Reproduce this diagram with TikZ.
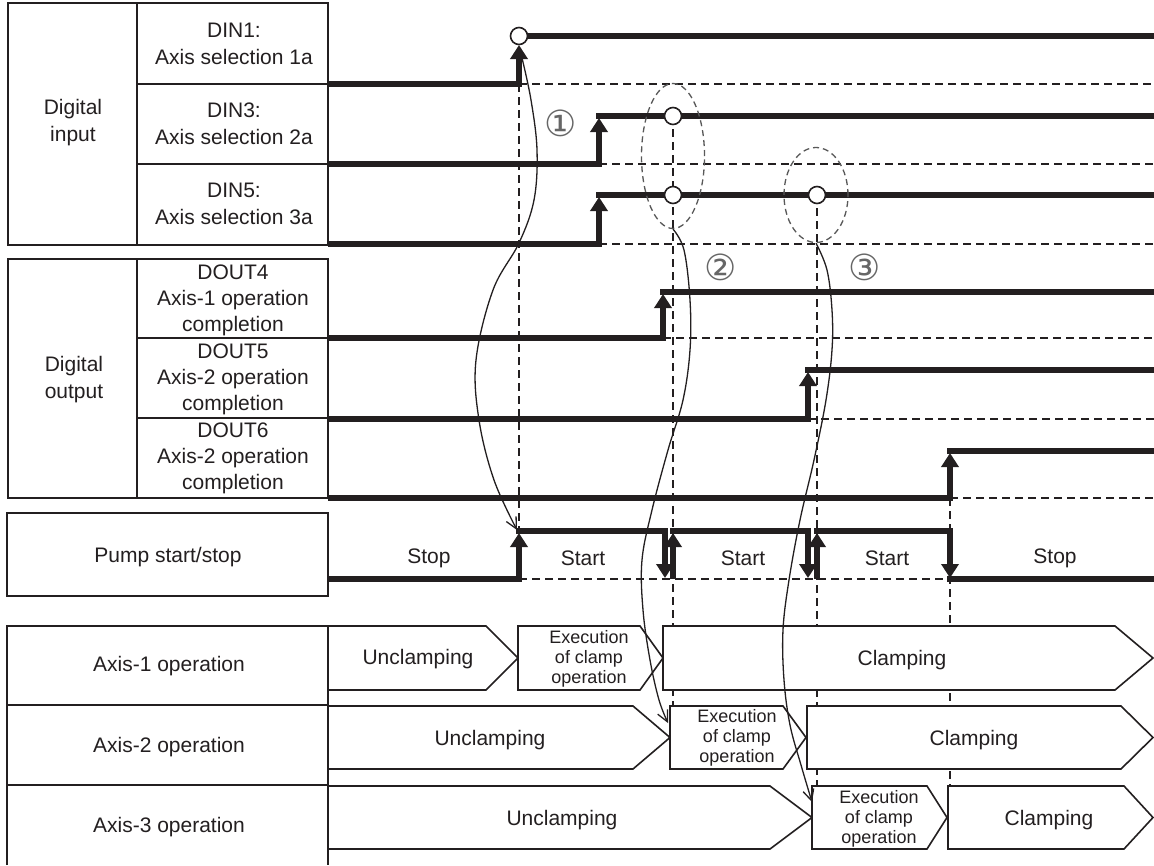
\documentclass[tikz,border=0pt]{standalone}
\usepackage{fontspec}
\setmainfont{Liberation Sans}
\newfontfamily\symfont{DejaVu Sans}
\usetikzlibrary{arrows.meta,shapes.geometric}
\definecolor{ink}{HTML}{231F20}
\begin{document}
\begin{tikzpicture}[x=1pt,y=-1pt,
  frame/.style={draw=ink,line width=1.6pt},
  sig/.style={draw=ink,line width=6pt},
  rise/.style={sig,-{Triangle[width=17pt,length=14pt]}},
  lowdash/.style={draw=ink,line width=1.4pt,dash pattern=on 8pt off 5pt},
  vdash/.style={draw=ink,line width=1.8pt,dash pattern=on 8pt off 5pt},
  ring/.style={ellipse,draw=black!65,line width=1.3pt,dash pattern=on 6pt off 4pt,inner sep=0pt},
  knob/.style={circle,draw=ink,fill=white,line width=1.6pt,minimum size=17pt,inner sep=0pt},
  phase/.style={draw=ink,fill=white,line width=1.6pt},
  lab/.style={text=ink,align=center,inner sep=0pt,font=\fontsize{21}{27}\selectfont},
  sub/.style={text=ink,align=center,inner sep=0pt,font=\fontsize{18}{20}\selectfont},
  cue/.style={draw=ink,line width=1.3pt,-{Straight Barb[length=11pt,width=11pt]}},
  num/.style={text=black!60,inner sep=0pt,font=\symfont\fontsize{36}{36}\selectfont}
]
\fill[white] (0,0) rectangle (1154,865);
\useasboundingbox (0,0) rectangle (1154,865);

% ---- label column ----
\draw[frame] (8,3) rectangle (328,245);
\draw[frame] (137,3) -- (137,245);
\draw[frame] (137,84) -- (328,84);
\draw[frame] (137,164) -- (328,164);
\draw[frame] (8,259) rectangle (328,498);
\draw[frame] (137,259) -- (137,498);
\draw[frame] (137,338) -- (328,338);
\draw[frame] (137,418) -- (328,418);
\draw[frame] (7,513) rectangle (328,596);
\draw[frame] (7,865) -- (7,626) -- (328,626) -- (328,865);
\draw[frame] (7,705) -- (328,705);
\draw[frame] (7,785) -- (328,785);

\node[lab] (din)  at (73,123) {Digital\\input};
\node[lab] (din1) at (234,44) {DIN1:\\Axis selection 1a};
\node[lab] (din3) at (234,124) {DIN3:\\Axis selection 2a};
\node[lab] (din5) at (234,204) {DIN5:\\Axis selection 3a};
\node[lab] (dout) at (74,380) {Digital\\output};
\node[lab,font=\fontsize{21}{26}\selectfont] (dout4) at (233,300) {DOUT4\\Axis-1 operation\\completion};
\node[lab,font=\fontsize{21}{26}\selectfont] (dout5) at (233,379) {DOUT5\\Axis-2 operation\\completion};
\node[lab,font=\fontsize{21}{26}\selectfont] (dout6) at (233,458) {DOUT6\\Axis-2 operation\\completion};
\node[lab] (pump) at (168,557) {Pump start/stop};
\node[lab] (ax1) at (169,666) {Axis-1 operation};
\node[lab] (ax2) at (169,747) {Axis-2 operation};
\node[lab] (ax3) at (169,827) {Axis-3 operation};

% ---- dashed guides ----
\draw[lowdash] (519,84) -- (1154,84);
\draw[lowdash] (599,164) -- (1154,164);
\draw[lowdash] (599,244) -- (1154,244);
\draw[lowdash] (663,338) -- (1154,338);
\draw[lowdash] (808,419) -- (1154,419);
\draw[lowdash] (950,498) -- (1154,498);
\draw[lowdash] (519,579) -- (947,579);
\draw[vdash] (519,84) -- (519,528);
\draw[vdash] (673,116) -- (673,706);
\draw[vdash] (817,195) -- (817,786);
\draw[vdash] (950,498) -- (950,786);

% ---- digital inputs ----
\draw[rise] (328,84) -| (519,45);
\draw[sig] (519,36) -- (1154,36);
\draw[rise] (328,164) -| (599,118);
\draw[sig] (596,116) -- (1154,116);
\draw[rise] (328,244) -| (599,197);
\draw[sig] (596,195) -- (1154,195);

% ---- digital outputs ----
\draw[rise] (328,338) -| (663,294);
\draw[sig] (660,292) -- (1154,292);
\draw[rise] (328,419) -| (808,372);
\draw[sig] (805,370) -- (1154,370);
\draw[rise] (328,498) -| (950,453);
\draw[sig] (947,451) -- (1154,451);

% ---- pump ----
\draw[rise] (328,579) -| (519,533);
\draw[rise] (516,531) -| (665,578);
\draw[rise] (673,579) -- (673,533);
\draw[rise] (670,531) -| (808,578);
\draw[rise] (817,579) -- (817,533);
\draw[rise] (814,531) -| (950,578);
\draw[sig] (947,579) -- (1154,579);

\node[lab] (s1) at (429,558) {Stop};
\node[lab] (s2) at (583,558) {Start};
\node[lab] (s3) at (743,558) {Start};
\node[lab] (s4) at (887,558) {Start};
\node[lab] (s5) at (1055,558) {Stop};

% ---- edge markers ----
\node[knob] (k1) at (519,36) {};
\node[knob] (k2) at (673,116) {};
\node[knob] (k3) at (673,195) {};
\node[knob] (k4) at (817,195) {};
\node[ring,minimum width=63pt,minimum height=145pt] (e2) at (673,156) {};
\node[ring,minimum width=64pt,minimum height=95pt] (e3) at (816,195) {};

% ---- axis operations ----
\draw[phase] (328,626) -- (486,626) -- (518,658) -- (486,690) -- (328,690) -- cycle;
\draw[phase] (518,626) -- (640,626) -- (663,658) -- (640,690) -- (518,690) -- cycle;
\draw[phase] (663,626) -- (1115,626) -- (1153,658) -- (1115,690) -- (663,690) -- cycle;
\draw[phase] (328,706) -- (633,706) -- (670,737.5) -- (633,769) -- (328,769) -- cycle;
\draw[phase] (670,706) -- (783,706) -- (806,737.5) -- (783,769) -- (670,769) -- cycle;
\draw[phase] (807,706) -- (1121,706) -- (1153,737.5) -- (1121,769) -- (807,769) -- cycle;
\draw[phase] (328,786) -- (770,786) -- (812,817.5) -- (770,849) -- (328,849) -- cycle;
\draw[phase] (812,786) -- (927,786) -- (947,817.5) -- (927,849) -- (812,849) -- cycle;
\draw[phase] (948,786) -- (1124,786) -- (1153,817.5) -- (1124,849) -- (948,849) -- cycle;

\node[lab] (u1) at (418,659) {Unclamping};
\node[sub] (x1) at (589,659) {Execution\\of clamp\\operation};
\node[lab] (c1) at (902,660) {Clamping};
\node[lab] (u2) at (490,740) {Unclamping};
\node[sub] (x2) at (737,738) {Execution\\of clamp\\operation};
\node[lab] (c2) at (974,740) {Clamping};
\node[lab] (u3) at (562,820) {Unclamping};
\node[sub] (x3) at (879,819) {Execution\\of clamp\\operation};
\node[lab] (c3) at (1049,820) {Clamping};

% ---- cause/effect curves ----
\coordinate (a1) at (522,58);
\coordinate (b1) at (517,530);
\coordinate (b2) at (668,723);
\coordinate (b3) at (812,802);
\draw[cue] plot[smooth,tension=0.6] coordinates {(a1) (531,100) (537,150) (534,200) (519,243) (493,290) (476,360) (479,420) (494,480) (b1)};
\draw[cue] plot[smooth,tension=0.6] coordinates {(e2.south) (684,250) (690,300) (690,350) (683,400) (668,450) (652,510) (642,560) (643,610) (650,660) (659,700) (b2)};
\draw[cue] plot[smooth,tension=0.6] coordinates {(e3.south) (827,270) (832,310) (832,350) (826,400) (814,460) (800,520) (789,580) (783,630) (784,680) (790,725) (801,765) (b3)};

\node[num] (n1) at (561,123) {①};
\node[num] (n2) at (721,267) {②};
\node[num] (n3) at (865,267) {③};
\end{tikzpicture}
\end{document}
